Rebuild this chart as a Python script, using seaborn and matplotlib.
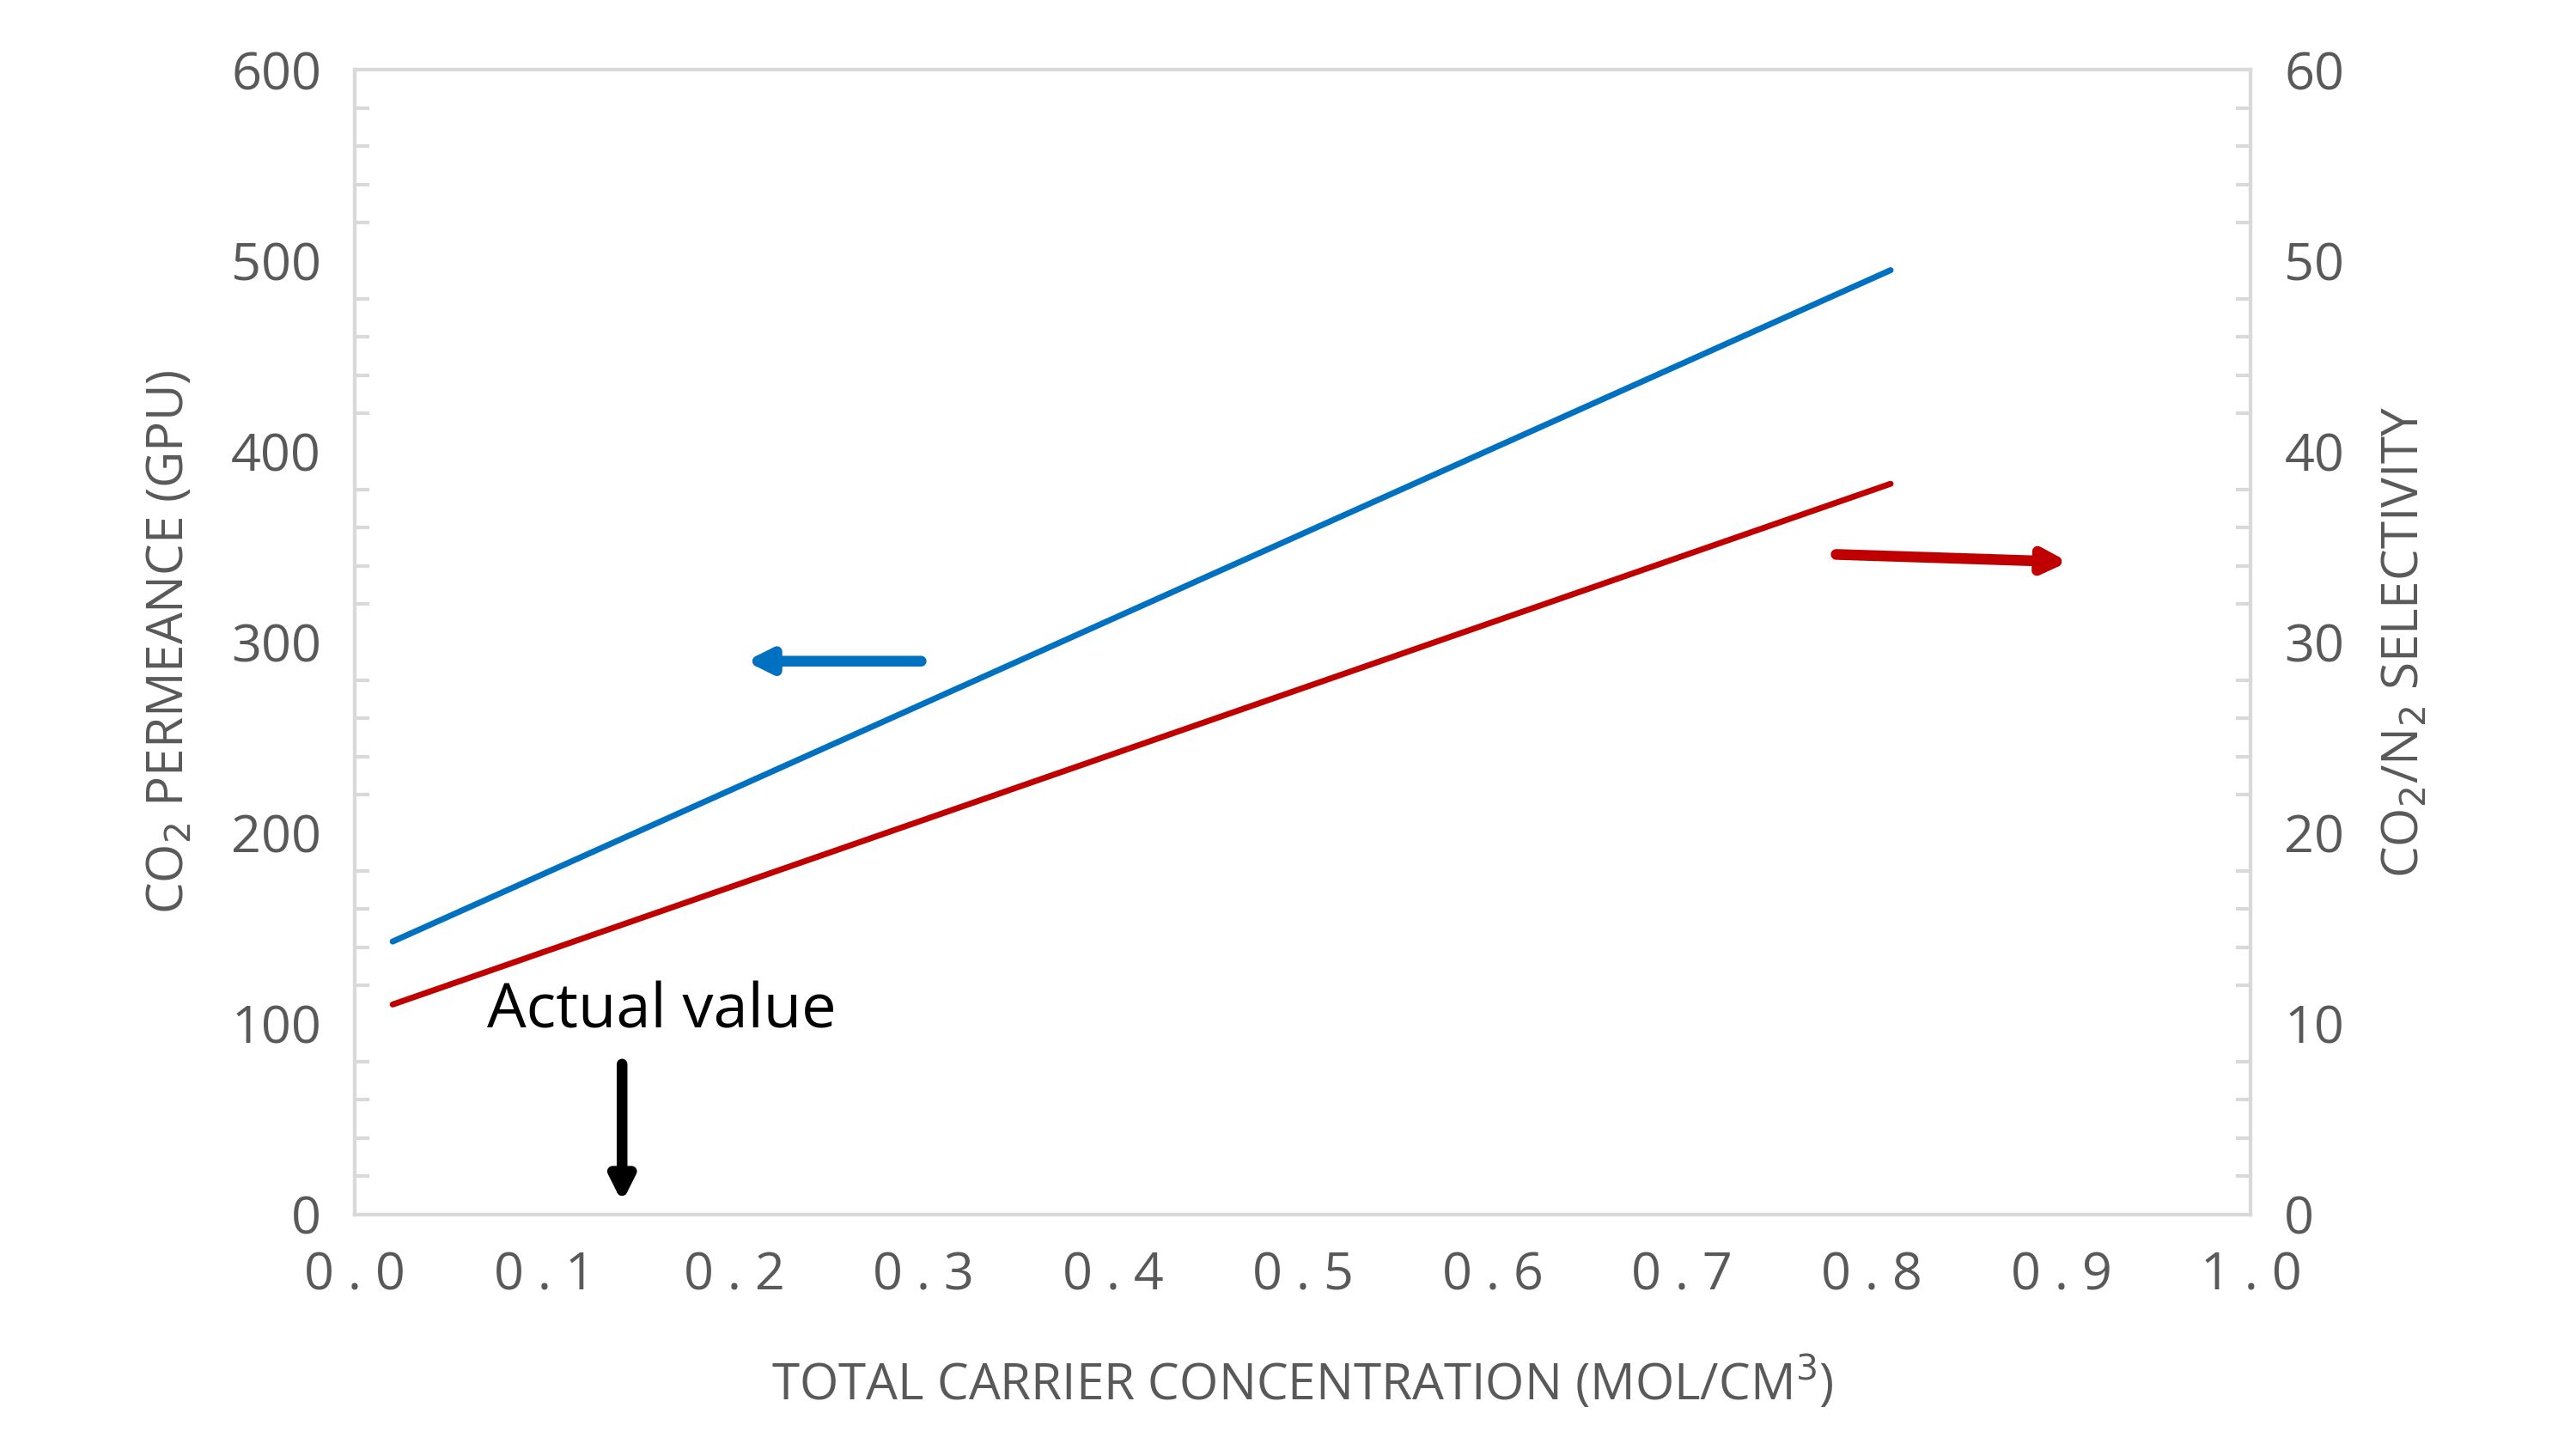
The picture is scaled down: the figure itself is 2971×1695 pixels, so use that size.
import numpy as np
import pandas as pd
import matplotlib
matplotlib.use("Agg")
from matplotlib import pyplot as plt
from matplotlib.ticker import MultipleLocator
import seaborn as sns

# data
carrier = [0.02, 0.81]
permeance = [143, 495]
selectivity = [11.0, 38.3]

x_ticks = [0.0, 0.1, 0.2, 0.3, 0.4, 0.5, 0.6, 0.7, 0.8, 0.9, 1.0]
x_labels = [" ".join(f"{v:.1f}") for v in x_ticks]

sns.set_style("white")
plt.rcParams['font.family'] = ['Open Sans', 'DejaVu Sans']
grey = "#595959"
spine = "#d9d9d9"

fig = plt.figure(figsize=(29.71, 16.95), dpi=100)
ax = fig.add_axes([0.139, 0.166, 0.743, 0.786])
ax2 = ax.twinx()

df = pd.DataFrame({"x": carrier, "perm": permeance, "sel": selectivity})
sns.lineplot(data=df, x="x", y="perm", ax=ax, color="#0070c0", lw=5)
sns.lineplot(data=df, x="x", y="sel", ax=ax2, color="#c00000", lw=5)

ax.set_xlim(0, 1.0)
ax.set_ylim(0, 600)
ax2.set_ylim(0, 60)
ax.set_xticks(x_ticks)
ax.set_xticklabels(x_labels)
ax.set_yticks(range(0, 601, 100))
ax2.set_yticks(range(0, 61, 10))
ax.xaxis.set_minor_locator(MultipleLocator(0.02))
ax.yaxis.set_minor_locator(MultipleLocator(20))
ax2.yaxis.set_minor_locator(MultipleLocator(2))

for a in (ax, ax2):
    for s in a.spines.values():
        s.set_color(spine)
        s.set_linewidth(3)
    a.tick_params(which="major", length=0, labelsize=44, labelcolor=grey, pad=28)
    a.tick_params(which="minor", length=12, width=3, color=spine, direction="in")
ax.tick_params(axis="x", which="major", pad=30)

ax.set_xlabel("TOTAL CARRIER CONCENTRATION (MOL/CM$^3$)", fontsize=42, color=grey, labelpad=45)
ax.set_ylabel("CO$_2$ PERMEANCE (GPU)", fontsize=42, color=grey, labelpad=30)
ax2.set_ylabel("CO$_2$/N$_2$ SELECTIVITY", fontsize=42, color=grey, labelpad=30)

ax.annotate("", xy=(0.205, 290), xytext=(0.30, 290),
            arrowprops=dict(arrowstyle="-|>,head_length=1.6,head_width=0.8", color="#0070c0", lw=9))
ax2.annotate("", xy=(0.905, 34.2), xytext=(0.78, 34.6),
             arrowprops=dict(arrowstyle="-|>,head_length=1.6,head_width=0.8", color="#c00000", lw=9))
ax.annotate("", xy=(0.141, 5), xytext=(0.141, 80),
            arrowprops=dict(arrowstyle="-|>,head_length=1.6,head_width=0.8", color="black", lw=9))
ax.text(0.07, 90, "Actual value", fontsize=52, color="black", va="bottom")

fig.savefig("out.png", dpi=100)
